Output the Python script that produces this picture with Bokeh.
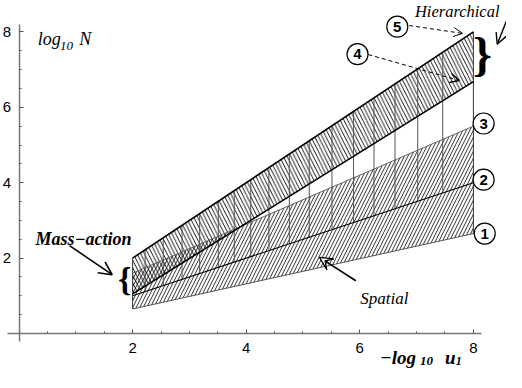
import numpy as np
from bokeh.plotting import figure
from bokeh.models import Range1d, FixedTicker, Arrow, OpenHead, VeeHead
from bokeh.core.properties import value
from bokeh.embed import file_html
from bokeh.resources import INLINE

# ---- data ----
x_ends = [2.0, 8.0]
line1 = [0.65, 2.65]
line2 = [1.0, 4.0]
line3 = [1.6, 5.5]
line4 = [1.05, 6.68]
line5 = [2.0, 8.0]
x_verticals = [2.22, 2.54, 2.87, 3.18, 3.51, 3.79, 4.08, 4.40, 4.76, 5.11,
               5.51, 5.89, 6.25, 6.62, 7.02, 7.46]
x_ticks = [2, 4, 6, 8]
y_ticks = [2, 4, 6, 8]
x_minor = [0.5, 1.0, 1.5, 2.5, 3.0, 3.5, 4.5, 5.0, 5.5, 6.5, 7.0, 7.5]
y_minor = [0.5, 1.0, 1.5, 2.5, 3.0, 3.5, 4.5, 5.0, 5.5, 6.5, 7.0, 7.5]
circle_labels = ["1", "2", "3", "4", "5"]
circle_x = [8.20, 8.18, 8.18, 5.96, 6.66]
circle_y = [2.65, 4.08, 5.57, 7.41, 8.14]

SERIF = value("Liberation Serif")
SANS = value("Liberation Sans")

p = figure(width=506, height=372, x_range=Range1d(-0.326, 8.583),
           y_range=Range1d(-1.034, 8.833), output_backend="svg",
           toolbar_location=None, min_border=0)
p.grid.visible = False
p.outline_line_color = None
p.background_fill_color = "white"

# axes crossing at the origin
xa = p.xaxis[0]
ya = p.yaxis[0]
xa.fixed_location = 0
ya.fixed_location = 0
xa.bounds = (-0.2, 8.15)
ya.bounds = (-0.2, 8.2)
xa.ticker = FixedTicker(ticks=x_ticks, minor_ticks=x_minor)
ya.ticker = FixedTicker(ticks=y_ticks, minor_ticks=y_minor)
for ax in (xa, ya):
    ax.axis_line_color = "#777777"
    ax.axis_line_width = 1.5
    ax.major_tick_in = 4
    ax.major_tick_out = 0
    ax.minor_tick_in = 2
    ax.minor_tick_out = 0
    ax.major_tick_line_color = "#555555"
    ax.minor_tick_line_color = "#555555"
    ax.major_label_text_font = "Liberation Sans"
    ax.major_label_text_font_size = "15px"
    ax.major_label_text_color = "black"
xa.major_label_standoff = 9
ya.major_label_standoff = 8

# ---- hatched regions ----
p.patch(x_ends + x_ends[::-1], line1 + line3[::-1], fill_color=None,
        line_color=None, hatch_pattern="/", hatch_color="black",
        hatch_scale=7, hatch_weight=0.8)
p.patch(x_ends + x_ends[::-1], line4 + line5[::-1], fill_color=None,
        line_color=None, hatch_pattern="\\", hatch_color="black",
        hatch_scale=7.5, hatch_weight=0.9)

# vertical lines between line 2 and line 5
y_bot = list(np.interp(x_verticals, x_ends, line2))
y_top = list(np.interp(x_verticals, x_ends, line5))
p.segment(x0=x_verticals, y0=y_bot, x1=x_verticals, y1=y_top,
          line_color="#555555", line_width=1)

# boundary edges
p.segment(x0=[x_ends[0], x_ends[1]], y0=[line1[0], line1[1]],
          x1=[x_ends[0], x_ends[1]], y1=[line5[0], line5[1]],
          line_color="#333333", line_width=1)

# boundary lines
p.line(x_ends, line1, line_color="#444444", line_width=0.9)
p.line(x_ends, line2, line_color="black", line_width=1.1)
p.line(x_ends, line3, line_color="#555555", line_width=0.9)
p.line(x_ends, line4, line_color="black", line_width=1.6)
p.line(x_ends, line5, line_color="black", line_width=1.6)

# ---- annotations ----
# y-axis title: log_10 N
p.text(x=[0.33], y=[7.82], text=["log"], text_font=SERIF, text_font_style="italic",
       text_font_size="18px", text_baseline="alphabetic", text_color="black")
p.text(x=[0.72], y=[7.63], text=["10"], text_font=SERIF, text_font_style="italic",
       text_font_size="13px", text_baseline="alphabetic", text_color="black")
p.text(x=[1.06], y=[7.82], text=["N"], text_font=SERIF, text_font_style="italic",
       text_font_size="18px", text_baseline="alphabetic", text_color="black")

# x-axis title: -log_10 u_1
p.text(x=[6.36], y=[-0.64], text=["\u2212log"], text_font=SERIF, text_font_style="bold italic",
       text_font_size="19px", text_baseline="alphabetic", text_color="black")
p.text(x=[7.06], y=[-0.74], text=["10"], text_font=SERIF, text_font_style="bold italic",
       text_font_size="13px", text_baseline="alphabetic", text_color="black")
p.text(x=[7.50], y=[-0.64], text=["u"], text_font=SERIF, text_font_style="bold italic",
       text_font_size="19px", text_baseline="alphabetic", text_color="black")
p.text(x=[7.69], y=[-0.74], text=["1"], text_font=SERIF, text_font_style="bold italic",
       text_font_size="12px", text_baseline="alphabetic", text_color="black")

# Mass-action
p.text(x=[0.29], y=[2.50], text=["Mass\u2212action"], text_font=SERIF,
       text_font_style="bold italic", text_font_size="18px",
       text_baseline="alphabetic", text_color="black")
p.add_layout(Arrow(end=OpenHead(size=13, line_width=1.6), x_start=0.89, y_start=2.33,
                   x_end=1.64, y_end=1.56, line_width=1.6))
p.text(x=[1.86], y=[1.43], text=["{"], text_font=SERIF, text_font_style="bold",
       text_font_size="34px", text_align="center", text_baseline="middle",
       text_color="black")

# Spatial
p.text(x=[6.01], y=[0.93], text=["Spatial"], text_font=SERIF, text_font_style="italic",
       text_font_size="17px", text_baseline="alphabetic", text_color="black")
p.add_layout(Arrow(end=VeeHead(size=13, fill_color="white", line_width=1.2),
                   x_start=5.93, y_start=1.40, x_end=5.29, y_end=2.02, line_width=1.6))

# Hierarchical
p.text(x=[6.97], y=[8.53], text=["Hierarchical"], text_font=SERIF, text_font_style="italic",
       text_font_size="16.5px", text_baseline="alphabetic", text_color="black")
p.add_layout(Arrow(end=OpenHead(size=11, line_width=1.4), x_start=8.58, y_start=8.28,
                   x_end=8.42, y_end=7.67, line_width=1.4))
p.text(x=[8.16], y=[7.40], text=["}"], text_font=SERIF, text_font_style="bold",
       text_font_size="48px", text_align="center", text_baseline="middle",
       text_color="black")

# dashed pointers from circles 5 and 4
p.add_layout(Arrow(end=OpenHead(size=9, line_width=1), x_start=6.87, y_start=8.17,
                   x_end=7.81, y_end=7.96, line_width=1, line_dash="4 3"))
p.add_layout(Arrow(end=OpenHead(size=9, line_width=1.5), x_start=6.15, y_start=7.40,
                   x_end=7.75, y_end=6.71, line_width=1, line_dash="4 3"))

# circled numbers
p.scatter(circle_x, circle_y, marker="circle", size=21, fill_color="white",
          line_color="black", line_width=1.2)
p.text(x=circle_x, y=circle_y, text=circle_labels, text_font=SANS,
       text_font_style="bold", text_font_size="15px", text_align="center",
       text_baseline="middle", text_color="black")

open("out.html", "w").write(file_html(p, INLINE))
